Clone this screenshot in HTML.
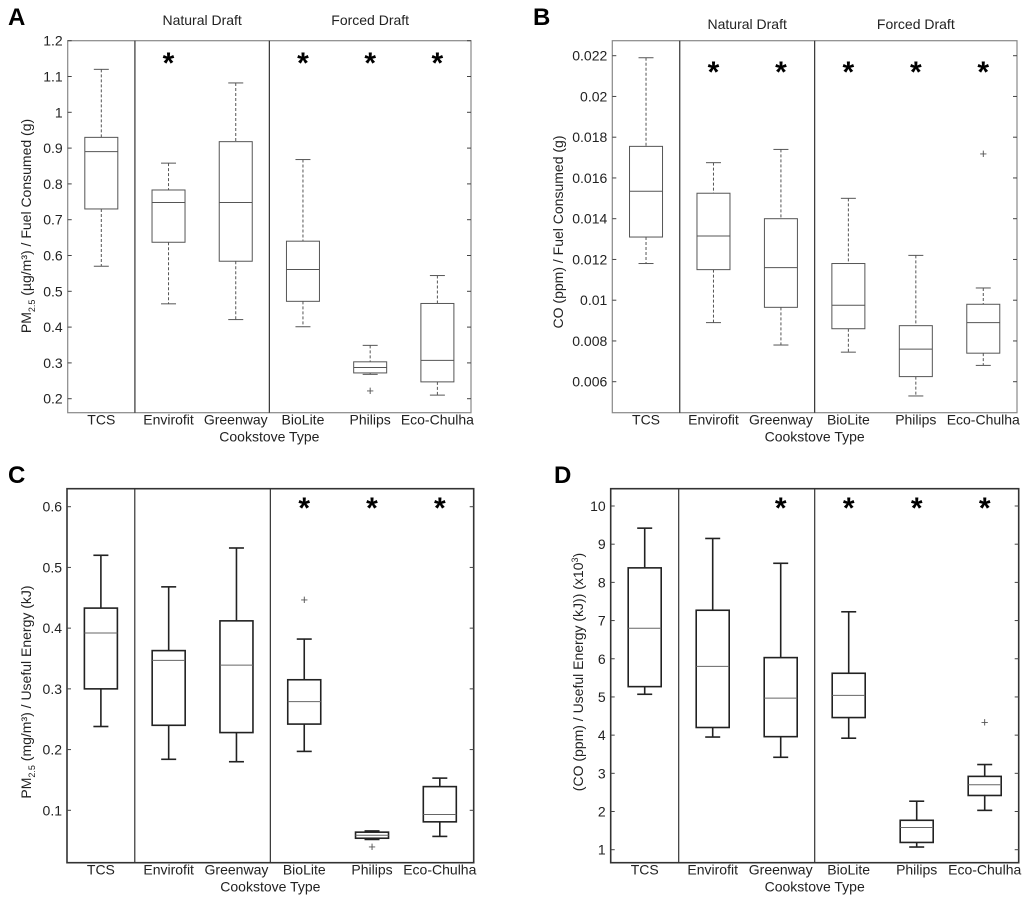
<!DOCTYPE html>
<html><head><meta charset="utf-8">
<style>
html,body{margin:0;padding:0;background:#fff;}
svg{display:block;font-family:"Liberation Sans",sans-serif;}
</style></head>
<body>
<svg id="fig" width="1024" height="900" viewBox="0 0 1024 900" xmlns="http://www.w3.org/2000/svg"></svg>
<script>
const categories = ["TCS","Envirofit","Greenway","BioLite","Philips","Eco-Chulha"];

// Panel A: PM2.5 / fuel consumed
const aWhiskHi = [1.12,0.858,1.082,0.868,0.349,0.544];
const aQ3 = [0.93,0.783,0.918,0.64,0.303,0.466];
const aMed = [0.89,0.748,0.748,0.561,0.287,0.307];
const aQ1 = [0.73,0.637,0.584,0.472,0.272,0.247];
const aWhiskLo = [0.57,0.465,0.421,0.401,0.268,0.21];
const aOutliers = [[],[],[],[],[0.223],[]];
const aStars = [false,true,false,true,true,true];
const aTicks = [0.2,0.3,0.4,0.5,0.6,0.7,0.8,0.9,1,1.1,1.2];
const aTickLabels = ["0.2","0.3","0.4","0.5","0.6","0.7","0.8","0.9","1","1.1","1.2"];

// Panel B: CO / fuel consumed
const bWhiskHi = [0.0219,0.01675,0.0174,0.0150,0.0122,0.0106];
const bQ3 = [0.01755,0.01525,0.0140,0.0118,0.00875,0.0098];
const bMed = [0.01535,0.01315,0.0116,0.00975,0.0076,0.0089];
const bQ1 = [0.0131,0.0115,0.00965,0.0086,0.00625,0.0074];
const bWhiskLo = [0.0118,0.0089,0.0078,0.00745,0.0053,0.0068];
const bOutliers = [[],[],[],[],[],[0.0172]];
const bStars = [false,true,true,true,true,true];
const bTicks = [0.006,0.008,0.01,0.012,0.014,0.016,0.018,0.02,0.022];
const bTickLabels = ["0.006","0.008","0.01","0.012","0.014","0.016","0.018","0.02","0.022"];

// Panel C: PM2.5 / useful energy
const cWhiskHi = [0.52,0.468,0.532,0.382,0.066,0.153];
const cQ3 = [0.433,0.363,0.412,0.315,0.064,0.139];
const cMed = [0.392,0.347,0.339,0.279,0.059,0.093];
const cQ1 = [0.30,0.240,0.228,0.242,0.054,0.081];
const cWhiskLo = [0.238,0.184,0.180,0.197,0.052,0.057];
const cOutliers = [[],[],[],[0.447],[0.040],[]];
const cStars = [false,false,false,true,true,true];
const cTicks = [0.1,0.2,0.3,0.4,0.5,0.6];
const cTickLabels = ["0.1","0.2","0.3","0.4","0.5","0.6"];

// Panel D: CO / useful energy
const dWhiskHi = [9.42,9.15,8.5,7.23,2.27,3.23];
const dQ3 = [8.38,7.27,6.03,5.62,1.77,2.92];
const dMed = [6.8,5.8,4.97,5.04,1.58,2.7];
const dQ1 = [5.27,4.2,3.96,4.46,1.19,2.42];
const dWhiskLo = [5.07,3.95,3.42,3.92,1.07,2.03];
const dOutliers = [[],[],[],[],[],[4.35]];
const dStars = [false,false,true,true,true,true];
const dTicks = [1,2,3,4,5,6,7,8,9,10];
const dTickLabels = ["1","2","3","4","5","6","7","8","9","10"];

const NS = "http://www.w3.org/2000/svg";
const svg = document.getElementById("fig");
function mk(tag, attrs, parent, text){
  const e = document.createElementNS(NS, tag);
  for (const k in attrs) e.setAttribute(k, attrs[k]);
  if (text !== undefined) e.textContent = text;
  (parent || svg).appendChild(e);
  return e;
}

function panel(cfg){
  const g = mk("g", {});
  
  
  const L = cfg.x0, R = cfg.x1, T = cfg.y0, B = cfg.y1;
  const step = (R - L) / categories.length;
  const xs = i => L + step * (i + 0.5);
  const ys = v => cfg.py0 + (v - cfg.v0) * (cfg.py1 - cfg.py0) / (cfg.v1 - cfg.v0);
  const col = cfg.color, lw = cfg.lw;

  const lab = mk("text", {x: cfg.lx, y: cfg.ly, "font-size": 24, "font-weight": "bold", fill: "#000"}, g, cfg.letter);
  
  

  const frame = mk("rect", {x: L, y: T, width: R - L, height: B - T, fill: "none", stroke: cfg.frameColor, "stroke-width": cfg.frameW}, g);
  
  

  [L + step, L + step * 3].forEach(dx => {
    const d = mk("line", {x1: dx, x2: dx, y1: T, y2: B, stroke: "#333", "stroke-width": 1.2}, g);
    
    
  });

  if (cfg.groupTitles) {
    const t1 = mk("text", {x: L + step * 2, y: cfg.gy, "font-size": 14, "text-anchor": "middle", fill: "#222"}, g, "Natural Draft");
    
    
    const t2 = mk("text", {x: L + step * 4.5, y: cfg.gy, "font-size": 14, "text-anchor": "middle", fill: "#222"}, g, "Forced Draft");
    
    
  }

  cfg.ticks.forEach((v, i) => {
    const y = ys(v);
    const tl = mk("line", {x1: L, x2: L + 4, y1: y, y2: y, stroke: "#444", "stroke-width": 1}, g);
    
    
    const tr = mk("line", {x1: R - 4, x2: R, y1: y, y2: y, stroke: "#444", "stroke-width": 1}, g);
    
    
    const tt = mk("text", {x: L - 5, y: y + 5, "font-size": 14, "text-anchor": "end", fill: "#222"}, g, cfg.tickLabels[i]);
    
    
  });

  categories.forEach((c, i) => {
    const t = mk("text", {x: xs(i), y: B + 12, "font-size": 14, "text-anchor": "middle", fill: "#222"}, g, c);
    
    
  });
  const xt = mk("text", {x: L + step * 3, y: B + 29, "font-size": 14, "text-anchor": "middle", fill: "#222"}, g, "Cookstove Type");
  
  

  const yt = mk("text", {x: 0, y: 0, "font-size": 14, "text-anchor": "middle", fill: "#222",
    transform: "translate(" + cfg.ytx + "," + cfg.yty + ") rotate(-90)"}, g);
  yt.innerHTML = cfg.yTitle;
  
  

  const hw = 16.5, cw = 7.5;
  categories.forEach((c, i) => {
    const x = xs(i);
    const bg = mk("g", {}, g);
    
    
    const dash = cfg.dashed ? "3,2" : "none";
    mk("line", {x1: x, x2: x, y1: ys(cfg.hi[i]), y2: ys(cfg.q3[i]), stroke: col, "stroke-width": lw, "stroke-dasharray": dash}, bg);
    mk("line", {x1: x, x2: x, y1: ys(cfg.q1[i]), y2: ys(cfg.lo[i]), stroke: col, "stroke-width": lw, "stroke-dasharray": dash}, bg);
    mk("line", {x1: x - cw, x2: x + cw, y1: ys(cfg.hi[i]), y2: ys(cfg.hi[i]), stroke: col, "stroke-width": lw}, bg);
    mk("line", {x1: x - cw, x2: x + cw, y1: ys(cfg.lo[i]), y2: ys(cfg.lo[i]), stroke: col, "stroke-width": lw}, bg);
    mk("rect", {x: x - hw, y: ys(cfg.q3[i]), width: hw * 2, height: ys(cfg.q1[i]) - ys(cfg.q3[i]), fill: "none", stroke: col, "stroke-width": lw}, bg);
    mk("line", {x1: x - hw, x2: x + hw, y1: ys(cfg.med[i]), y2: ys(cfg.med[i]), stroke: cfg.medColor, "stroke-width": 1}, bg);
    cfg.out[i].forEach(v => {
      const o = mk("text", {x: x, y: ys(v) + 4.5, "font-size": 13, "text-anchor": "middle", fill: "#555"}, bg, "+");
      
      
    });
    if (cfg.stars[i]) {
      const s = mk("text", {x: x, y: cfg.sy + 15, "font-size": 30, "font-weight": "bold", "text-anchor": "middle", fill: "#000"}, g, "*");
      
      
    }
  });
}

panel({letter:"A", lx:8, ly:25, x0:67.7, x1:471, y0:40.7, y1:412.7, py0:40.7, py1:398.7, v0:1.2, v1:0.2,
  ticks:aTicks, tickLabels:aTickLabels, hi:aWhiskHi, q3:aQ3, med:aMed, q1:aQ1, lo:aWhiskLo, out:aOutliers, stars:aStars,
  color:"#555", medColor:"#555", lw:1, dashed:true, frameColor:"#888", frameW:1.2, groupTitles:true, gy:25, sy:58,
  ytx:31, yty:226, yTitle:'PM<tspan font-size="9" dy="4">2.5</tspan><tspan dy="-4"> (µg/m³) / Fuel Consumed (g)</tspan>'});

panel({letter:"B", lx:533, ly:25, x0:612.3, x1:1017, y0:40.7, y1:412.7, py0:55.7, py1:381.7, v0:0.022, v1:0.006,
  ticks:bTicks, tickLabels:bTickLabels, hi:bWhiskHi, q3:bQ3, med:bMed, q1:bQ1, lo:bWhiskLo, out:bOutliers, stars:bStars,
  color:"#555", medColor:"#555", lw:1, dashed:true, frameColor:"#888", frameW:1.2, groupTitles:true, gy:29, sy:67,
  ytx:563, yty:232, yTitle:'CO (ppm) / Fuel Consumed (g)'});

panel({letter:"C", lx:8, ly:483, x0:67, x1:473.7, y0:488.7, y1:862.7, py0:506.7, py1:810.3, v0:0.6, v1:0.1,
  ticks:cTicks, tickLabels:cTickLabels, hi:cWhiskHi, q3:cQ3, med:cMed, q1:cQ1, lo:cWhiskLo, out:cOutliers, stars:cStars,
  color:"#222", medColor:"#666", lw:1.6, dashed:false, frameColor:"#333", frameW:1.6, groupTitles:false, sy:503,
  ytx:31, yty:692, yTitle:'PM<tspan font-size="9" dy="4">2.5</tspan><tspan dy="-4"> (mg/m³) / Useful Energy (kJ)</tspan>'});

panel({letter:"D", lx:554, ly:483, x0:610.7, x1:1018.7, y0:488.7, y1:862.7, py0:506, py1:849.7, v0:10, v1:1,
  ticks:dTicks, tickLabels:dTickLabels, hi:dWhiskHi, q3:dQ3, med:dMed, q1:dQ1, lo:dWhiskLo, out:dOutliers, stars:dStars,
  color:"#222", medColor:"#666", lw:1.6, dashed:false, frameColor:"#333", frameW:1.6, groupTitles:false, sy:503,
  ytx:583, yty:672, yTitle:'(CO (ppm) / Useful Energy (kJ)) (x10<tspan font-size="9" dy="-5">3</tspan><tspan dy="5">)</tspan>'});
</script>
</body></html>
